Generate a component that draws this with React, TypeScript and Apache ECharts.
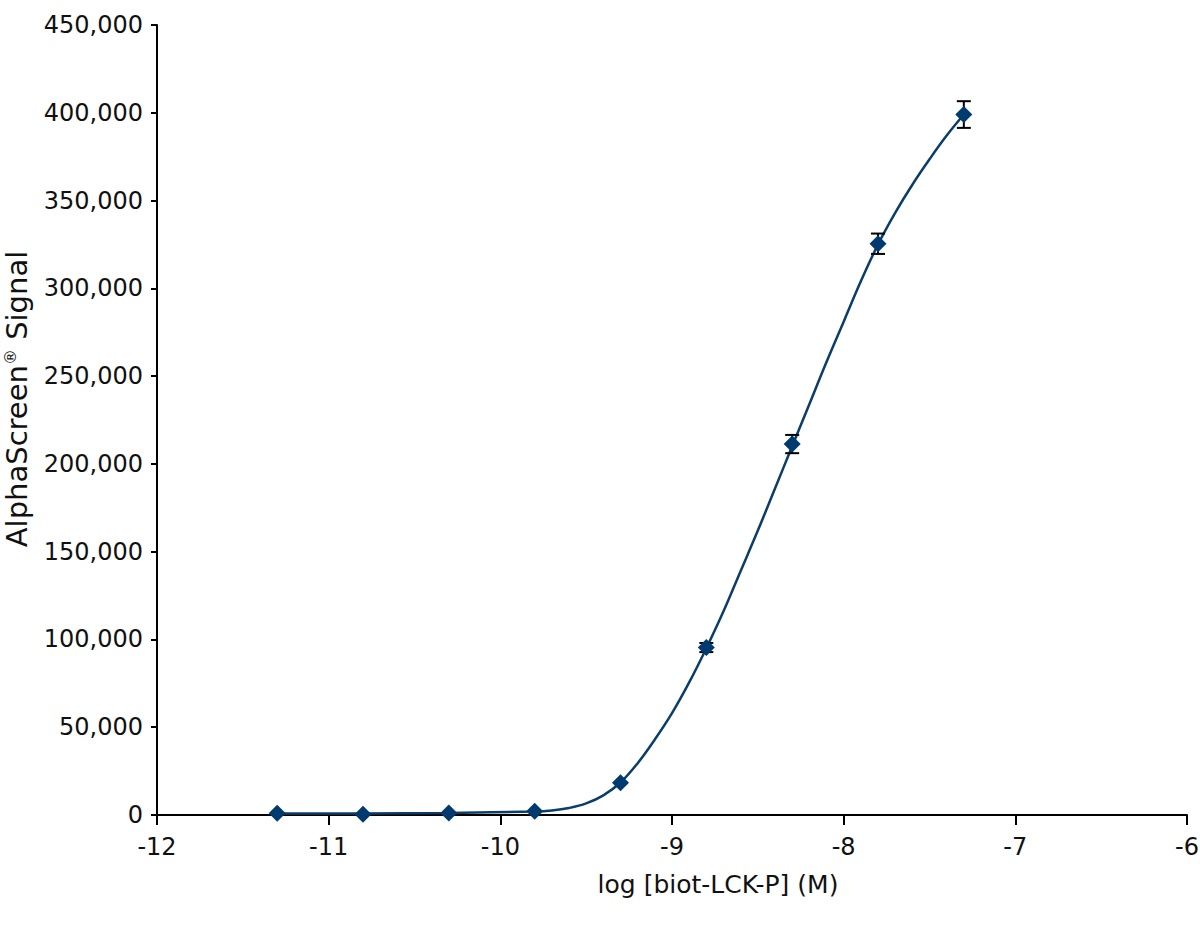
import { useEffect, useRef } from 'react';
import * as echarts from 'echarts';

// measured points (log M, signal)
const logConc = [-11.3, -10.8, -10.3, -9.8, -9.3, -8.8, -8.3, -7.8, -7.3];
const signal = [1000, 400, 1200, 2200, 18300, 95400, 211300, 325400, 399000];
const errSd = [0, 0, 0, 0, 0, 2600, 5200, 5800, 7600];

// fitted curve
const fitX = [-11.3, -10.8, -10.3, -9.8, -9.7, -9.6, -9.5, -9.4, -9.3, -9.2, -9.1, -9.0, -8.9, -8.8, -8.7, -8.6, -8.5, -8.4, -8.3, -8.2, -8.1, -8.0, -7.9, -7.8, -7.7, -7.6, -7.5, -7.4, -7.3];
const fitY = [800, 900, 1200, 2000, 2600, 4000, 6600, 11200, 18500, 29500, 43000, 58000, 75500, 95000, 116000, 139000, 162000, 186000, 210000, 234000, 258000, 281000, 304000, 325000, 343000, 359000, 373500, 387000, 399000];

const NAVY = '#003A6E';
const LINE = '#0B3D6B';
const FONT = 'DejaVu Sans';

function buildOption(): echarts.EChartsOption {
  const points = logConc.map((x, i) => [x, signal[i]]);
  const curve = fitX.map((x, i) => [x, fitY[i]]);
  const bars = logConc
    .map((x, i) => [x, signal[i] - errSd[i], signal[i] + errSd[i]])
    .filter((_, i) => errSd[i] > 0);

  return {
    animation: false,
    grid: { left: 157, right: 13, top: 25, bottom: 121, outerBoundsMode: 'none' } as any,
    xAxis: {
      type: 'value',
      min: -12,
      max: -6,
      interval: 1,
      name: 'log [biot-LCK-P] (M)',
      nameLocation: 'middle',
      nameGap: 57,
      nameTextStyle: { fontFamily: FONT, fontSize: 25, color: '#111', padding: [0, 0, 0, 92] },
      axisLine: { lineStyle: { color: '#000', width: 2 } },
      axisTick: { length: 10, lineStyle: { color: '#000', width: 2 } },
      axisLabel: { margin: 20, fontFamily: FONT, fontSize: 24, color: '#111' },
      splitLine: { show: false }
    },
    yAxis: {
      type: 'value',
      min: 0,
      max: 450000,
      interval: 50000,
      name: '{a|AlphaScreen}{r|®}{a| Signal}',
      nameLocation: 'middle',
      nameRotate: 90,
      nameGap: 126,
      nameTextStyle: {
        fontFamily: FONT,
        fontSize: 29,
        color: '#111',
        padding: [0, 0, 0, 42],
        rich: {
          a: { fontFamily: FONT, fontSize: 29, color: '#111' },
          r: { fontFamily: FONT, fontSize: 16, color: '#111', verticalAlign: 'top' }
        }
      },
      axisLine: { show: true, lineStyle: { color: '#000', width: 2 } },
      axisTick: { show: true, length: 6, lineStyle: { color: '#000', width: 2 } },
      axisLabel: {
        margin: 14,
        fontFamily: FONT,
        fontSize: 24,
        color: '#111',
        formatter: (v: number) => v.toLocaleString('en-US')
      },
      splitLine: { show: false }
    },
    series: [
      {
        type: 'line',
        data: curve,
        smooth: 0.4,
        symbol: 'none',
        lineStyle: { color: LINE, width: 2.5 },
        z: 2
      },
      {
        type: 'custom',
        data: bars,
        renderItem: (_params: any, api: any) => {
          const x = api.value(0);
          const top = api.coord([x, api.value(2)]);
          const bot = api.coord([x, api.value(1)]);
          const hw = 7;
          const style = { stroke: '#000', lineWidth: 2 };
          return {
            type: 'group',
            children: [
              { type: 'line', shape: { x1: top[0], y1: top[1], x2: bot[0], y2: bot[1] }, style },
              { type: 'line', shape: { x1: top[0] - hw, y1: top[1], x2: top[0] + hw, y2: top[1] }, style },
              { type: 'line', shape: { x1: bot[0] - hw, y1: bot[1], x2: bot[0] + hw, y2: bot[1] }, style }
            ]
          };
        },
        z: 3
      },
      {
        type: 'scatter',
        data: points,
        symbol: 'diamond',
        symbolSize: 17,
        itemStyle: { color: NAVY, opacity: 1 },
        z: 4
      }
    ]
  };
}

export default function App() {
  const ref = useRef<HTMLDivElement | null>(null);

  useEffect(() => {
    if (!ref.current) return;
    const chart = echarts.init(ref.current, null, { renderer: 'svg' });
    chart.setOption(buildOption());
    return () => chart.dispose();
  }, []);

  return (
    <div
      ref={ref}
      style={{ position: 'absolute', left: 0, top: 0, width: 1200, height: 936, background: '#fff' }}
    />
  );
}
